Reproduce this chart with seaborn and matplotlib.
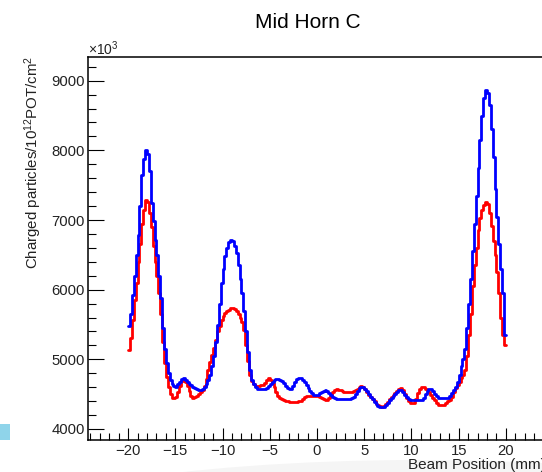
import numpy as np
import pandas as pd
import matplotlib
matplotlib.use("Agg")
import matplotlib.pyplot as plt
from matplotlib.ticker import MultipleLocator
from matplotlib.patches import Rectangle, Ellipse
import seaborn as sns

# ---- data (bin centres in mm, 0.2 mm bins from -20 to 20) ----
bin_width = 0.2
positions = [round(-19.9 + 0.2 * i, 1) for i in range(200)]

blue_values = [
    5480, 5650, 5920, 6200, 6500, 6780, 7200, 7650, 7880, 8010,
    7950, 7700, 7250, 6980, 6720, 6500, 6200, 5880, 5450, 5150,
    4950, 4800, 4700, 4650, 4620, 4610, 4640, 4680, 4720, 4730,
    4710, 4680, 4650, 4630, 4610, 4590, 4570, 4560, 4560, 4570,
    4600, 4640, 4700, 4780, 4900, 5050, 5250, 5500, 5800, 6100,
    6300, 6480, 6600, 6680, 6710, 6700, 6620, 6520, 6350, 6150,
    5950, 5700, 5400, 5100, 4850, 4700, 4640, 4600, 4580, 4570,
    4570, 4570, 4575, 4590, 4620, 4650, 4680, 4700, 4720, 4720,
    4710, 4690, 4660, 4620, 4590, 4570, 4580, 4620, 4680, 4720,
    4735, 4730, 4710, 4680, 4630, 4590, 4550, 4520, 4495, 4485,
    4495, 4510, 4530, 4545, 4555, 4545, 4520, 4490, 4460, 4440,
    4430, 4430, 4430, 4430, 4430, 4430, 4430, 4435, 4445, 4460,
    4500, 4545, 4585, 4605, 4605, 4580, 4540, 4500, 4460, 4425,
    4390, 4360, 4330, 4315, 4310, 4315, 4340, 4370, 4410, 4440,
    4470, 4500, 4530, 4555, 4560, 4530, 4490, 4455, 4425, 4415,
    4410, 4410, 4410, 4412, 4415, 4420, 4450, 4500, 4550, 4580,
    4575, 4540, 4500, 4470, 4445, 4440, 4440, 4440, 4445, 4450,
    4470, 4510, 4560, 4610, 4680, 4780, 4900, 5000, 5150, 5450,
    5800, 6150, 6550, 6950, 7350, 7750, 8150, 8500, 8750, 8860,
    8820, 8650, 8300, 7900, 7450, 7050, 6650, 6300, 5950, 5350,
]

red_values = [
    5140, 5300, 5560, 5850, 6100, 6400, 6650, 6950, 7150, 7285,
    7260, 7100, 6900, 6620, 6400, 6200, 5950, 5650, 5250, 4950,
    4750, 4600, 4500, 4450, 4440, 4460, 4530, 4620, 4690, 4705,
    4680, 4620, 4540, 4480, 4450, 4455, 4480, 4500, 4525, 4560,
    4620, 4720, 4850, 4960, 5060, 5160, 5280, 5400, 5480, 5560,
    5620, 5665, 5700, 5715, 5730, 5735, 5720, 5690, 5650, 5600,
    5540, 5420, 5200, 4980, 4780, 4690, 4640, 4620, 4615, 4620,
    4625, 4630, 4660, 4700, 4725, 4710, 4660, 4600, 4530, 4480,
    4450, 4430, 4415, 4405, 4395, 4392, 4392, 4392, 4392, 4393,
    4395, 4400, 4430, 4460, 4475, 4480, 4480, 4480, 4480, 4478,
    4475, 4460, 4440, 4425, 4418, 4420, 4440, 4480, 4530, 4560,
    4570, 4565, 4555, 4545, 4535, 4530, 4530, 4530, 4535, 4540,
    4555, 4575, 4600, 4615, 4610, 4575, 4530, 4490, 4455, 4425,
    4395, 4365, 4340, 4325, 4320, 4330, 4355, 4390, 4430, 4460,
    4490, 4520, 4550, 4575, 4585, 4560, 4500, 4450, 4400, 4375,
    4368, 4375, 4430, 4510, 4580, 4605, 4600, 4580, 4555, 4530,
    4490, 4450, 4410, 4380, 4350, 4345, 4345, 4350, 4370, 4400,
    4420, 4460, 4530, 4590, 4630, 4680, 4730, 4770, 4850, 5050,
    5350, 5650, 6050, 6350, 6600, 6850, 7030, 7150, 7220, 7265,
    7230, 7100, 6920, 6700, 6500, 6250, 5950, 5600, 5350, 5200,
]

series_names = ["blue", "red"]
series_colors = ["#0000ff", "#ff0000"]

title = "Mid Horn C"
xlabel = "Beam Position (mm)"
ylabel = "Charged particles/10$^{12}$POT/cm$^{2}$"
x_ticks = [-20, -15, -10, -5, 0, 5, 10, 15, 20]
y_ticks = [4000, 5000, 6000, 7000, 8000, 9000]

df = pd.DataFrame({
    "position": positions * 2,
    "value": blue_values + red_values,
    "series": [series_names[0]] * len(positions) + [series_names[1]] * len(positions),
})

# ---- figure ----
sns.set_theme(style="ticks")
plt.rcParams["font.family"] = ["Liberation Sans", "DejaVu Sans"]
plt.rcParams["mathtext.default"] = "regular"

W, H = 542, 472
fig = plt.figure(figsize=(W / 100, H / 100), dpi=100)
fig.patch.set_facecolor("white")

# faint page shading at the bottom and small blue marker at the left edge
fig.patches.append(Ellipse((420 / W, 1 - 540 / H), 900 / W, 160 / H, transform=fig.transFigure,
                           facecolor="#f5f5f5", edgecolor="none", zorder=-5))
fig.patches.append(Rectangle((0, 1 - 440 / H), 10 / W, 16 / H, transform=fig.transFigure,
                             facecolor="#8fd4ea", edgecolor="none", zorder=-5))

ax = fig.add_axes([88 / W, 1 - 440 / H, 458 / W, (440 - 57.3) / H])
ax.set_zorder(2)
ax.set_facecolor("white")

sns.histplot(
    data=df, x="position", weights="value", hue="series",
    binwidth=bin_width, binrange=(-20, 20),
    element="step", fill=False, palette=dict(zip(series_names, series_colors)),
    linewidth=2.0, legend=False, ax=ax,
)

ax.set_xlim(-24.25, 24.25)
ax.set_ylim(3842, 9336)
ax.set_xticks(x_ticks)
ax.set_xticklabels(["\u2212" + str(-t) if t < 0 else str(t) for t in x_ticks])
ax.set_yticks(y_ticks)
ax.xaxis.set_minor_locator(MultipleLocator(1))
ax.yaxis.set_minor_locator(MultipleLocator(200))
ax.set_xlabel("")
ax.set_ylabel("")

for side in ["left", "bottom", "top", "right"]:
    ax.spines[side].set_visible(True)
    ax.spines[side].set_color("black")
    ax.spines[side].set_linewidth(1.1)

ax.tick_params(axis="both", which="both", direction="in", top=False, right=False,
               colors="black", width=0.8, labelsize=10.7)
ax.tick_params(axis="y", which="major", length=11.5, pad=2.2)
ax.tick_params(axis="y", which="minor", length=5.8)
ax.tick_params(axis="x", which="major", length=8.6, pad=3.0)
ax.tick_params(axis="x", which="minor", length=4.7)
for lab in ax.get_xticklabels() + ax.get_yticklabels():
    lab.set_color("#222222")

fig.text(308 / W, 1 - 22 / H, title, ha="center", va="center", fontsize=15, color="black")
fig.text(88 / W, 1 - 57.5 / H, "\u00d710$^{3}$", ha="left", va="bottom", fontsize=10, color="#222222")
fig.text(33 / W, 1 - 56 / H, ylabel, rotation=90, ha="center", va="top", fontsize=10.8, color="#222222")
fig.text(546 / W, 1 - 465 / H, xlabel, ha="right", va="center", fontsize=11, color="#222222", zorder=5)

fig.savefig("out.png", dpi=100)
